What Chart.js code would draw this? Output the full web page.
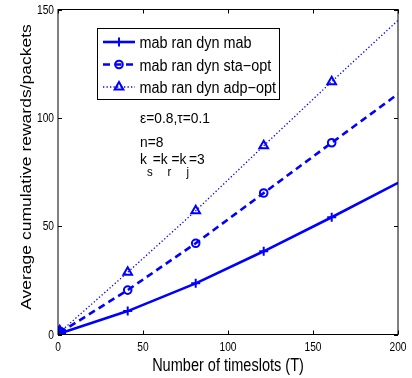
<!DOCTYPE html>
<html>
<head>
<meta charset="utf-8">
<script src="https://cdn.jsdelivr.net/npm/chart.js@4"></script>
<style>
  html, body { margin: 0; padding: 0; background: #fff; }
  canvas { display: block; }
</style>
</head>
<body>
<canvas id="rewardsChart" width="412" height="378"></canvas>
<script>
// --- data ---
const timeslots = [1, 41, 81, 121, 161, 200];
const mabValues = [0.5, 10.8, 23.6, 38.4, 54.1, 70];
const staOptValues = [0.8, 20.5, 42.1, 65.3, 88.5, 111];
const adpOptValues = [1, 28.7, 57.1, 87.1, 116.7, 145];
const seriesLabels = ['mab ran dyn mab', 'mab ran dyn sta\u2212opt', 'mab ran dyn adp\u2212opt'];
const xTickValues = [0, 50, 100, 150, 200];
const yTickValues = [0, 50, 100, 150];

const BLUE = 'rgb(0, 0, 255)';
const FONT = '"Liberation Sans", Arial, sans-serif';

// markers only on the first five samples, first one drawn solid (blob at origin)
const markerRadius = r => timeslots.map((t, i) => i === 0 ? r + 1.5 : (i < 5 ? r : 0));
const markerFill = timeslots.map((t, i) => i === 0 ? BLUE : 'rgba(0,0,0,0)');

function toPoints(values) {
    return timeslots.map((t, i) => ({ x: t, y: values[i] }));
}

// text squeezed horizontally, like the original figure
function squeezeText(ctx, txt, x, y, size, squeeze, align, rot) {
    ctx.save();
    ctx.translate(x, y);
    ctx.scale(squeeze, 1);
    if (rot) ctx.rotate(rot);
    ctx.font = size + 'px ' + FONT;
    ctx.textAlign = align || 'left';
    ctx.textBaseline = 'alphabetic';
    ctx.fillStyle = '#000';
    ctx.fillText(txt, 0, 0);
    ctx.restore();
}

const matlabFrame = {
    id: 'matlabFrame',
    beforeDraw(chart) {
        const c = chart.ctx;
        c.save();
        c.fillStyle = '#fff';
        c.fillRect(0, 0, chart.width, chart.height);
        c.restore();
    },
    afterDraw(chart) {
        const c = chart.ctx;
        const { left, right, top, bottom } = chart.chartArea;
        const xs = chart.scales.x, ys = chart.scales.y;

        c.save();
        c.strokeStyle = '#000';
        c.lineWidth = 1;
        c.strokeRect(left, top, right - left, bottom - top);

        // inward ticks on all four sides
        c.beginPath();
        xs.ticks.forEach(t => {
            const px = Math.round(xs.getPixelForValue(t.value)) + 0.5;
            c.moveTo(px, bottom); c.lineTo(px, bottom - 4);
            c.moveTo(px, top); c.lineTo(px, top + 4);
        });
        ys.ticks.forEach(t => {
            const py = Math.round(ys.getPixelForValue(t.value)) + 0.5;
            c.moveTo(left, py); c.lineTo(left + 4, py);
            c.moveTo(right, py); c.lineTo(right - 4, py);
        });
        c.stroke();
        c.restore();

        // tick labels
        xs.ticks.forEach(t => {
            squeezeText(c, String(t.value), xs.getPixelForValue(t.value), 350.5, 12, 0.85, 'center');
        });
        ys.ticks.forEach(t => {
            squeezeText(c, String(t.value), left - 4, ys.getPixelForValue(t.value) + 4.3, 12, 0.85, 'right');
        });

        // axis titles
        squeezeText(c, 'Number of timeslots (T)', 228, 371, 17.5, 0.83, 'center');
        squeezeText(c, 'Average cumulative rewards/packets', 31, 167, 17.5, 0.83, 'center', -Math.PI / 2);

        // legend box
        c.save();
        c.fillStyle = '#fff';
        c.fillRect(97, 28, 182, 71);
        c.strokeStyle = '#000';
        c.lineWidth = 1;
        c.strokeRect(97.5, 28.5, 182, 71);
        const rowY = [42, 64.5, 87];
        chart.data.datasets.forEach((ds, i) => {
            const y = rowY[i];
            c.strokeStyle = ds.borderColor;
            c.lineWidth = ds.borderWidth;
            c.setLineDash(ds.borderDash || []);
            c.beginPath();
            c.moveTo(103, y); c.lineTo(135, y);
            c.stroke();
            c.setLineDash([]);
            c.fillStyle = 'rgba(0,0,0,0)';
            c.lineWidth = ds.pointBorderWidth;
            Chart.helpers.drawPoint(c, {
                pointStyle: ds.pointStyle,
                radius: ds.pointRadius[1],
                rotation: 0,
                borderWidth: ds.pointBorderWidth
            }, 119, y);
            squeezeText(c, ds.label, 139.5, y + 6, 16, 0.9, 'left');
        });
        c.restore();

        // parameter annotations
        squeezeText(c, '\u03b5=0.8,\u03c4=0.1', 140, 123, 15, 0.92, 'left');
        squeezeText(c, 'n=8', 140, 147, 15, 0.92, 'left');
        const parts = [['k', 0], ['s', 1], ['=k', 0], ['r', 1], ['=k', 0], ['j', 1], ['=3', 0]];
        let x = 140;
        c.save();
        parts.forEach(([txt, sub]) => {
            const size = sub ? 12.5 : 15;
            c.font = size + 'px ' + FONT;
            squeezeText(c, txt, x, sub ? 175.5 : 164, size, 0.92, 'left');
            x += c.measureText(txt).width * 0.92;
        });
        c.restore();
    }
};

const ctx = document.getElementById('rewardsChart').getContext('2d');

new Chart(ctx, {
    type: 'line',
    data: {
        datasets: [
            {
                label: seriesLabels[0],
                data: toPoints(mabValues),
                borderColor: BLUE,
                borderWidth: 2.6,
                pointStyle: 'cross',
                pointRadius: markerRadius(4.5),
                pointBorderColor: BLUE,
                pointBackgroundColor: markerFill,
                pointBorderWidth: 2
            },
            {
                label: seriesLabels[1],
                data: toPoints(staOptValues),
                borderColor: BLUE,
                borderWidth: 2.6,
                borderDash: [7, 4.5],
                pointStyle: 'circle',
                pointRadius: markerRadius(3.8),
                pointBorderColor: BLUE,
                pointBackgroundColor: markerFill,
                pointBorderWidth: 2
            },
            {
                label: seriesLabels[2],
                data: toPoints(adpOptValues),
                borderColor: BLUE,
                borderWidth: 1.3,
                borderDash: [1.3, 2.2],
                pointStyle: 'triangle',
                pointRadius: markerRadius(5),
                pointBorderColor: BLUE,
                pointBackgroundColor: markerFill,
                pointBorderWidth: 2
            }
        ]
    },
    options: {
        responsive: false,
        devicePixelRatio: 1,
        animation: false,
        layout: { padding: { top: 9.5, right: 14, left: 0, bottom: 0 } },
        elements: { line: { tension: 0, fill: false } },
        scales: {
            x: {
                type: 'linear',
                min: 0,
                max: 200,
                afterBuildTicks: s => { s.ticks = xTickValues.map(v => ({ value: v })); },
                afterFit: s => { s.height = 43.5; },
                ticks: { display: false },
                grid: { display: false },
                border: { display: false }
            },
            y: {
                type: 'linear',
                min: 0,
                max: 150,
                afterBuildTicks: s => { s.ticks = yTickValues.map(v => ({ value: v })); },
                afterFit: s => { s.width = 58; },
                ticks: { display: false },
                grid: { display: false },
                border: { display: false }
            }
        },
        plugins: {
            legend: { display: false },
            tooltip: { enabled: false }
        }
    },
    plugins: [matlabFrame]
});
</script>
</body>
</html>
